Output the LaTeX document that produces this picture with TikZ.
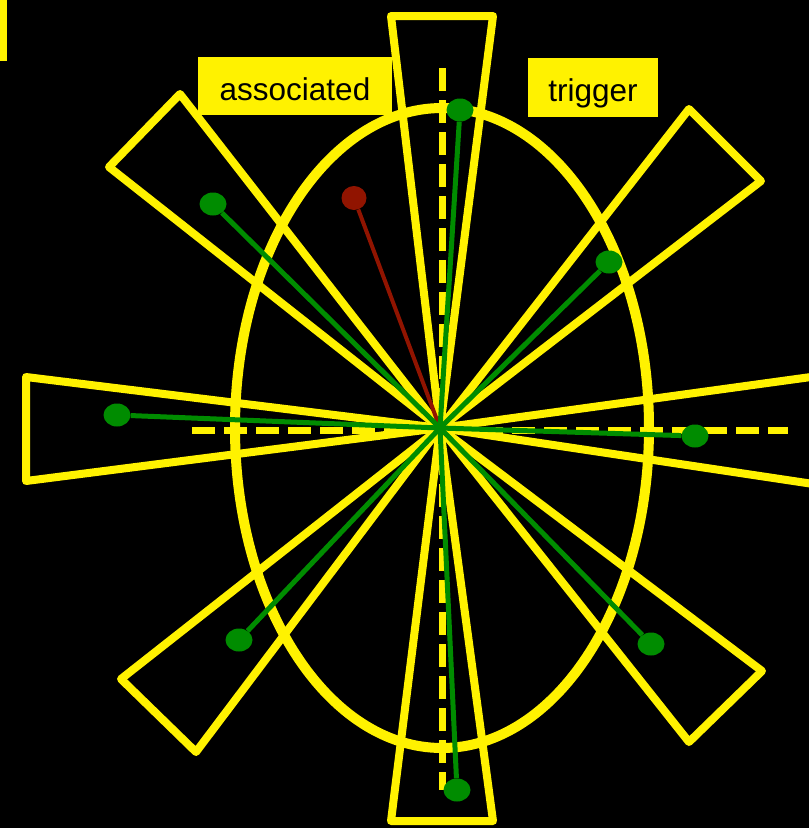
\documentclass[tikz,border=0pt]{standalone}
\usepackage{fontspec}
\setmainfont{Liberation Sans}
\usetikzlibrary{shapes.geometric}
\definecolor{trkgreen}{RGB}{0,140,0}
\definecolor{trkred}{RGB}{145,20,0}

\begin{document}
\begin{tikzpicture}[x=1pt, y=-1pt,
  cone/.style={draw=yellow, line width=8pt, line join=round},
  axisline/.style={yellow, line width=7pt, dash pattern=on 23pt off 9pt},
  trk/.style={draw=trkgreen, line width=5pt},
  dot/.style={ellipse, fill=trkgreen, minimum width=27pt, minimum height=23pt, inner sep=0pt},
  tag/.style={fill=yellow, text=black, font=\fontsize{31.5}{36}\selectfont, text height=28pt, text depth=0pt, inner sep=0pt}]
  \useasboundingbox (0,0) rectangle (809,828);
  \fill[black] (0,0) rectangle (809,828);
  \clip (0,0) rectangle (809,828);
  \coordinate (vtx) at (440,428);
  % event ellipse
  \draw[yellow, line width=10pt] (442,428) ellipse [x radius=207, y radius=320];
  % cones
  \foreach \ax/\ay/\bx/\by in {391/16/493/16, 180/94/109/167, 689/109/761/181, 26/377/26/481,
      840/373/840/488, 121/679/196/752, 762/671/689/742, 391/821/493/821}
    \draw[cone] (vtx) -- (\ax,\ay) -- (\bx,\by) -- cycle;
  % axes
  \draw[axisline] (442,68) -- (442,790);
  \draw[axisline] (192,430) -- (788,430);
  % tracks
  \node[dot] (n) at (460,110) {};
  \node[dot] (nw) at (213,204) {};
  \node[dot] (ne) at (609,262) {};
  \node[dot] (w) at (117,415) {};
  \node[dot] (e) at (695,436) {};
  \node[dot] (sw) at (239,640) {};
  \node[dot] (se) at (651,644) {};
  \node[dot] (s) at (457,790) {};
  \node[dot, fill=trkred, minimum width=25pt, minimum height=24pt] (r) at (354,198) {};
  \draw[trk, draw=trkred, line width=4pt] (vtx) -- (r);
  \foreach \t in {n,nw,ne,w,e,sw,se,s}
    \draw[trk] (vtx) -- (\t);
  % labels
  \fill[yellow] (0,0) rectangle (7,61);
  \node[tag, minimum width=194pt, minimum height=58pt] (assoc) at (295,86) {associated};
  \node[tag, minimum width=130pt, minimum height=59pt] (trig) at (593,87.5) {trigger};
\end{tikzpicture}
\end{document}
